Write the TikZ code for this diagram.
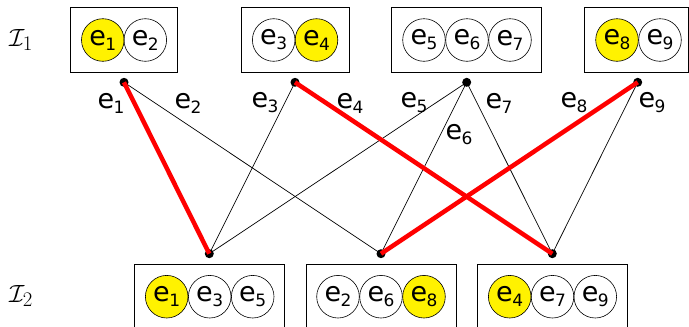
\documentclass[tikz,border=0pt]{standalone}
\usepackage{fontspec}
\setmainfont{DejaVu Sans}
\newcommand\ee[1]{e\kern-0.5pt\raisebox{-5pt}{\fontsize{17}{17}\selectfont #1}}
\tikzset{
  elem/.style={circle,draw,line width=0.6pt,minimum size=42.6pt,inner sep=0pt,font=\fontsize{27}{27}\selectfont},
  hit/.style={elem,fill=yellow},
  setbox/.style={draw,line width=0.8pt,minimum height=65pt,inner sep=0pt},
  dot/.style={circle,fill=black,minimum size=9pt,inner sep=0pt},
  edgelbl/.style={font=\fontsize{27}{27}\selectfont,inner sep=0pt},
  thin/.style={line width=0.7pt},
  chosen/.style={red,line width=4.5pt},
  setlbl/.style={font=\fontsize{28}{28}\selectfont,inner sep=0pt}
}
\begin{document}
\begin{tikzpicture}[x=1pt,y=-1pt]
\useasboundingbox (0,0) rectangle (689,327);
% top family
\node[setbox,minimum width=107pt] (T1) at (123.5,39.5) {};
\node[setbox,minimum width=108pt] (T2) at (295,39.5) {};
\node[setbox,minimum width=150pt] (T3) at (466.7,39.5) {};
\node[setbox,minimum width=104pt] (T4) at (636,39.5) {};
\node[hit]  (a1) at (102.8,40) {\ee1};
\node[elem] (a2) at (145.3,40) {\ee2};
\node[elem] (a3) at (273.7,40) {\ee3};
\node[hit]  (a4) at (316.5,40) {\ee4};
\node[elem] (a5) at (424,40) {\ee5};
\node[elem] (a6) at (467,40) {\ee6};
\node[elem] (a7) at (510,40) {\ee7};
\node[hit]  (a8) at (617,40) {\ee8};
\node[elem] (a9) at (660,40) {\ee9};
% bottom family
\node[setbox,minimum width=150pt] (B1box) at (209.5,297) {};
\node[setbox,minimum width=150pt] (B2box) at (381,297) {};
\node[setbox,minimum width=150pt] (B3box) at (552.5,297) {};
\node[hit]  (b1) at (166.7,296.7) {\ee1};
\node[elem] (b3) at (209.7,296.7) {\ee3};
\node[elem] (b5) at (252.7,296.7) {\ee5};
\node[elem] (b2) at (338,296.7) {\ee2};
\node[elem] (b6) at (381,296.7) {\ee6};
\node[hit]  (b8) at (424,296.7) {\ee8};
\node[hit]  (b4) at (509.7,296.7) {\ee4};
\node[elem] (b7) at (552.5,296.7) {\ee7};
\node[elem] (b9) at (595.3,296.7) {\ee9};
% set labels
\node[setlbl] (I1) at (21,40) {$\mathcal{I}_1$};
\node[setlbl] (I2) at (21,296) {$\mathcal{I}_2$};
% dots
\node[dot] (d1) at (124,82.3) {};
\node[dot] (d2) at (295,82.3) {};
\node[dot] (d3) at (466.7,82.3) {};
\node[dot] (d4) at (637.7,82.3) {};
\node[dot] (u1) at (209.3,253.7) {};
\node[dot] (u2) at (381,253.7) {};
\node[dot] (u3) at (552.3,253.7) {};
% edges
\draw[thin] (d1.center) -- (u2.center);
\draw[thin] (d2.center) -- (u1.center);
\draw[thin] (d3.center) -- (u1.center);
\draw[thin] (d3.center) -- (u2.center);
\draw[thin] (d3.center) -- (u3.center);
\draw[thin] (d4.center) -- (u3.center);
\draw[chosen] (d1.center) -- (u1.center);
\draw[chosen] (d2.center) -- (u3.center);
\draw[chosen] (d4.center) -- (u2.center);
% edge labels
\node[edgelbl] (l1) at (111,103) {\ee1};
\node[edgelbl] (l2) at (188,103) {\ee2};
\node[edgelbl] (l3) at (265,103) {\ee3};
\node[edgelbl] (l4) at (350,103) {\ee4};
\node[edgelbl] (l5) at (414,103) {\ee5};
\node[edgelbl] (l6) at (459,135) {\ee6};
\node[edgelbl] (l7) at (499,103) {\ee7};
\node[edgelbl] (l8) at (574,103) {\ee8};
\node[edgelbl] (l9) at (652,103) {\ee9};
\end{tikzpicture}
\end{document}
